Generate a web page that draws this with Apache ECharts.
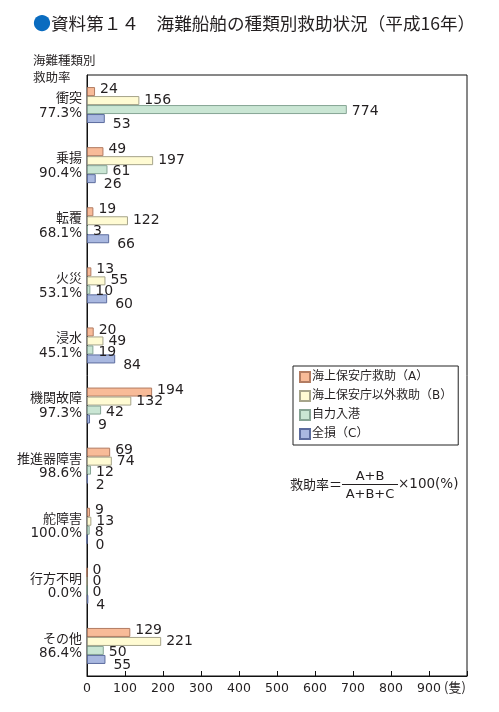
<!DOCTYPE html>
<html>
<head>
<meta charset="utf-8">
<script src="https://cdn.jsdelivr.net/npm/echarts@6/dist/echarts.min.js"></script>
<style>
  html, body { margin: 0; padding: 0; background: #fff; }
  #chart { width: 499px; height: 712px; }
</style>
</head>
<body>
<div id="chart"></div>
<script>
// 海難種類
var categories = ["衝突", "乗揚", "転覆", "火災", "浸水", "機関故障", "推進器障害", "舵障害", "行方不明", "その他"];
// 救助率(%)
var rescueRate = ["77.3", "90.4", "68.1", "53.1", "45.1", "97.3", "98.6", "100.0", "0.0", "86.4"];
// 隻数
var coastGuard = [24, 49, 19, 13, 20, 194, 69, 9, 0, 129];      // A
var otherRescue = [156, 197, 122, 55, 49, 132, 74, 13, 0, 221];  // B
var selfPort = [774, 61, 3, 10, 19, 42, 12, 8, 0, 50];
var totalLoss = [53, 26, 66, 60, 84, 9, 2, 0, 4, 55];            // C
var xTicks = [0, 100, 200, 300, 400, 500, 600, 700, 800, 900];

var seriesNames = ["海上保安庁救助（A）", "海上保安庁以外救助（B）", "自力入港", "全損（C）"];
var seriesData = [coastGuard, otherRescue, selfPort, totalLoss];
var fills = ["#f8bb98", "#fffbd3", "#cae6d4", "#a9b8e0"];
var borders = ["#b27c62", "#a6a48a", "#86a494", "#5c6c9e"];
var labelOffsets = [[0, -2], [0, 0], [0, 2], [3, 6]];

var JP = "'Noto Sans CJK JP', sans-serif";
var NUM = "'DejaVu Sans', 'Noto Sans CJK JP', sans-serif";
var TXT = "#231f20";

var chart = echarts.init(document.getElementById("chart"));

var series = seriesData.map(function (d, i) {
  return {
    name: seriesNames[i],
    type: "bar",
    xAxisIndex: 1,
    data: d,
    barWidth: 9,
    barGap: "0%",
    itemStyle: { color: fills[i], borderColor: borders[i], borderWidth: 1 },
    label: {
      show: true,
      position: "right",
      distance: 5,
      offset: labelOffsets[i],
      color: TXT,
      fontFamily: NUM,
      fontSize: 14
    },
    animation: false
  };
});

var option = {
  backgroundColor: "#fff",
  textStyle: { fontFamily: JP },
  grid: {
    left: 87, right: 32, top: 75, bottom: 36,
    show: true, borderColor: "#111", borderWidth: 1
  },
  legend: {
    orient: "vertical",
    left: 293, top: 366,
    padding: [5, 6, 5, 6],
    itemWidth: 10, itemHeight: 10, itemGap: 7,
    borderColor: "#222", borderWidth: 1,
    backgroundColor: "#fff",
    icon: "rect",
    textStyle: { color: TXT, fontSize: 12, fontFamily: NUM, padding: [0, 0, 0, -3] },
    data: seriesNames
  },
  xAxis: [
    {
      type: "value", min: 0, max: 1000, interval: 100,
      axisLine: { show: true, lineStyle: { color: "#111" } },
      axisTick: { show: true, inside: true, length: 5, lineStyle: { color: "#111" } },
      splitLine: { show: false },
      axisLabel: {
        color: TXT, fontSize: 12.5, fontFamily: NUM, margin: 6,
        formatter: function (v) { return xTicks.indexOf(v) >= 0 ? String(v) : ""; }
      }
    },
    // 棒の長さ用の補助軸(原図の棒は目盛より短めに描かれている)
    { type: "value", min: 0, max: 1132, show: false }
  ],
  yAxis: {
    type: "category",
    inverse: true,
    data: categories,
    axisLine: { show: true, lineStyle: { color: "#111" } },
    axisTick: { show: false },
    axisLabel: {
      margin: 5,
      align: "right",
      formatter: function (v, i) { return "{n|" + v + "}\n{p|" + rescueRate[i] + "%}"; },
      rich: {
        n: { fontSize: 13, color: TXT, fontFamily: JP, lineHeight: 16, align: "right" },
        p: { fontSize: 13.5, color: TXT, fontFamily: NUM, lineHeight: 16, align: "right" }
      }
    }
  },
  graphic: [
    {
      type: "text", left: 33, top: 14,
      style: {
        text: "{d|●}{t|資料第１４　海難船舶の種類別救助状況（平成16年）}",
        rich: {
          d: { fill: "#0a6cc0", fontSize: 18, fontFamily: JP },
          t: { fill: TXT, fontSize: 17.6, fontFamily: JP }
        }
      }
    },
    {
      type: "text", left: 33, top: 52,
      style: { text: "海難種類別\n救助率", fill: TXT, fontSize: 12.5, fontFamily: JP, lineHeight: 17 }
    },
    {
      type: "text", left: 444, top: 681,
      style: { text: "(隻)", fill: TXT, fontSize: 13, fontFamily: JP }
    },
    {
      type: "text", left: 290, top: 478,
      style: { text: "救助率＝", fill: TXT, fontSize: 13, fontFamily: JP }
    },
    {
      type: "text", x: 370, y: 477,
      style: { text: "A+B", fill: TXT, fontSize: 13, fontFamily: NUM, align: "center", verticalAlign: "middle" }
    },
    {
      type: "line", shape: { x1: 342, y1: 484.5, x2: 398, y2: 484.5 },
      style: { stroke: TXT, lineWidth: 1 }
    },
    {
      type: "text", x: 370, y: 495,
      style: { text: "A+B+C", fill: TXT, fontSize: 13, fontFamily: NUM, align: "center", verticalAlign: "middle" }
    },
    {
      type: "text", left: 398, top: 478,
      style: { text: "×100(%)", fill: TXT, fontSize: 13.5, fontFamily: NUM }
    }
  ],
  series: series
};

chart.setOption(option);
</script>
</body>
</html>
